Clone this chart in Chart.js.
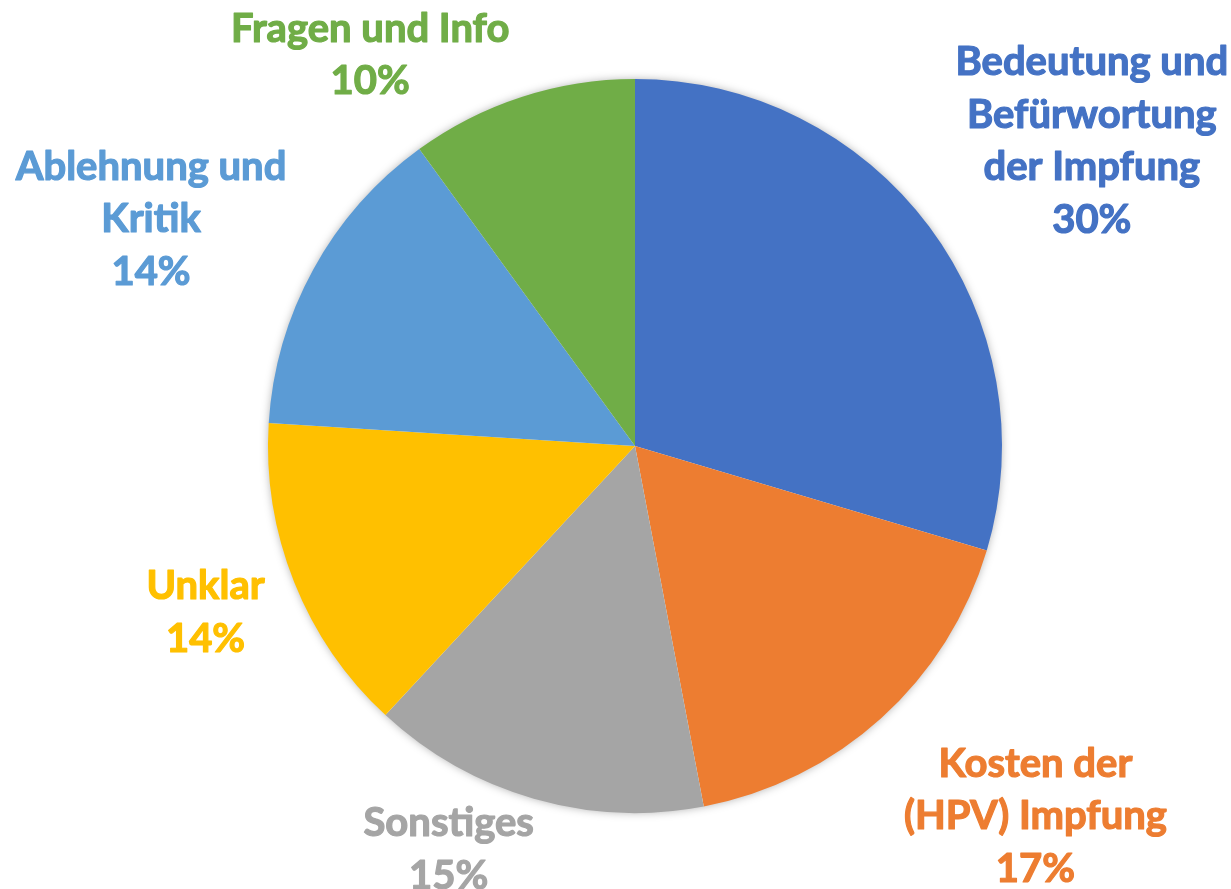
<!DOCTYPE html>
<html>
<head>
<meta charset="utf-8">
<script src="https://cdn.jsdelivr.net/npm/chart.js@4"></script>
<style>
  html, body { margin: 0; padding: 0; background: #fff; }
  #wrap { width: 1231px; height: 889px; }
</style>
</head>
<body>
<div id="wrap"><canvas id="container" width="1231" height="889"></canvas></div>
<script>
const categories = ['Bedeutung und Befürwortung der Impfung', 'Kosten der (HPV) Impfung', 'Sonstiges', 'Unklar', 'Ablehnung und Kritik', 'Fragen und Info']
const values = [29.6, 17.4, 14.9, 14.1, 14.0, 10.0]
const labelLines = [
    ['Bedeutung und', 'Befürwortung', 'der Impfung'],
    ['Kosten der', '(HPV) Impfung'],
    ['Sonstiges'],
    ['Unklar'],
    ['Ablehnung und', 'Kritik'],
    ['Fragen und Info']
]
const colors = ['#4472C4', '#ED7D31', '#A5A5A5', '#FFC000', '#5B9BD5', '#70AD47']

const LINE_H = 52.5
const PAD = 12
// small hand corrections so labels sit where the original put them
const labelNudge = [[20, 21], [39, 0], [33, 7], [-12, 0], [-19, 29], [17, 3]]

// soft shadow under the whole pie
const pieShadow = {
    id: 'pieShadow',
    beforeDatasetsDraw(chart) {
        const arc = chart.getDatasetMeta(0).data[0]
        if (!arc) return
        const { x, y, outerRadius } = arc.getProps(['x', 'y', 'outerRadius'], true)
        const ctx = chart.ctx
        ctx.save()
        ctx.shadowColor = 'rgba(0,0,0,0.35)'
        ctx.shadowBlur = 10
        ctx.fillStyle = '#fff'
        ctx.beginPath()
        ctx.arc(x, y, outerRadius - 1, 0, Math.PI * 2)
        ctx.fill()
        ctx.restore()
    }
}

// outside-end labels, kept inside the canvas
const outsideLabels = {
    id: 'outsideLabels',
    afterDatasetsDraw(chart) {
        const ctx = chart.ctx
        const meta = chart.getDatasetMeta(0)
        const total = values.reduce((a, b) => a + b, 0)
        ctx.save()
        ctx.font = 'bold 40px Lato'
        ctx.textAlign = 'center'
        ctx.textBaseline = 'middle'
        ctx.lineWidth = 1.2
        ctx.lineJoin = 'round'
        meta.data.forEach((arc, i) => {
            const { x, y, startAngle, endAngle, outerRadius } =
                arc.getProps(['x', 'y', 'startAngle', 'endAngle', 'outerRadius'], true)
            const lines = labelLines[i].concat([Math.round(values[i] / total * 100) + '%'])
            const w = Math.max(...lines.map(l => ctx.measureText(l).width))
            const h = (lines.length - 1) * LINE_H + 32
            const mid = (startAngle + endAngle) / 2
            const ux = Math.cos(mid), uy = Math.sin(mid)
            const dist = outerRadius + PAD + Math.abs(ux) * w / 2 + Math.abs(uy) * h / 2
            let cx = x + ux * dist
            let cy = y + uy * dist
            const minX = 4 + w / 2, maxX = chart.width - 4 - w / 2
            const minY = 10 + h / 2, maxY = chart.height - 4 - h / 2
            const boxDist = (bx, by) => {
                const dx = Math.max(bx - w / 2 - x, 0, x - (bx + w / 2))
                const dy = Math.max(by - h / 2 - y, 0, y - (by + h / 2))
                return Math.hypot(dx, dy)
            }
            if (cy < minY || cy > maxY) {
                cy = Math.min(maxY, Math.max(minY, cy))
                const s = ux < 0 ? -1 : 1
                let n = 0
                while (boxDist(cx, cy) < outerRadius + PAD && n++ < 600) cx += s
            }
            if (cx < minX || cx > maxX) {
                cx = Math.min(maxX, Math.max(minX, cx))
                const s = uy < 0 ? -1 : 1
                let n = 0
                while (boxDist(cx, cy) < outerRadius + PAD && n++ < 600) cy += s
            }
            cx += labelNudge[i][0]
            cy += labelNudge[i][1]
            ctx.fillStyle = colors[i]
            ctx.strokeStyle = colors[i]
            lines.forEach((l, k) => {
                const ly = cy + (k - (lines.length - 1) / 2) * LINE_H
                ctx.fillText(l, cx, ly)
                ctx.strokeText(l, cx, ly)
            })
        })
        ctx.restore()
    }
}

new Chart(document.getElementById('container'), {
    type: 'pie',
    data: {
        labels: categories,
        datasets: [{
            data: values,
            backgroundColor: colors,
            borderWidth: 0
        }]
    },
    options: {
        responsive: false,
        animation: false,
        layout: { padding: { left: 268, right: 229, top: 79, bottom: 76 } },
        plugins: {
            legend: { display: false },
            tooltip: { enabled: false }
        }
    },
    plugins: [pieShadow, outsideLabels]
})
</script>
</body>
</html>
